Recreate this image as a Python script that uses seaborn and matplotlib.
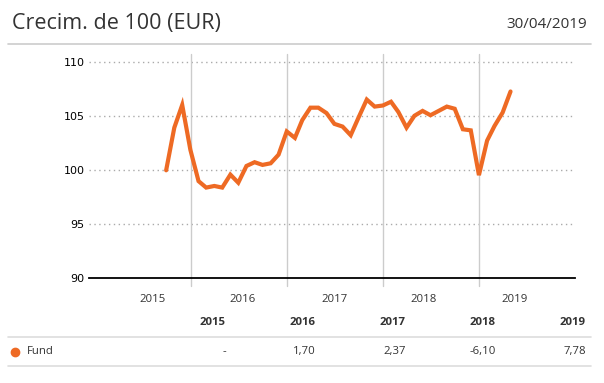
import matplotlib
matplotlib.use("Agg")
import matplotlib.pyplot as plt
from matplotlib.lines import Line2D
import seaborn as sns
import pandas as pd

# ---- data ----
months = pd.date_range("2015-09-30", "2019-04-30", freq="ME")
fund_values = [100.0, 103.95, 106.05, 101.9,
               99.0, 98.4, 98.55, 98.4, 99.6, 98.85, 100.4, 100.75, 100.5, 100.65, 101.45, 103.6,
               103.0, 104.65, 105.8, 105.8, 105.3, 104.3, 104.05, 103.25, 104.9, 106.55, 105.9, 106.0,
               106.35, 105.4, 103.95, 105.05, 105.5, 105.1, 105.5, 105.9, 105.7, 103.8, 103.7, 99.55,
               102.75, 104.1, 105.35, 107.3]
year_labels = ["2015", "2016", "2017", "2018", "2019"]
year_label_dates = ["2015-08-08", "2016-07-18", "2017-06-29", "2018-06-05", "2019-05-16"]
year_bounds = ["2016-01-01", "2017-01-01", "2018-01-01", "2019-01-01"]
yticks = [90, 95, 100, 105, 110]
table_years = ["2015", "2016", "2017", "2018", "2019"]
table_values = ["-", "1,70", "2,37", "-6,10", "7,78"]
series_name = "Fund"
title = "Crecim. de 100 (EUR)"
date_text = "30/04/2019"

ORANGE = "#EE6A24"
df = pd.DataFrame({"date": months, "value": fund_values})

sns.set_style("white")
plt.rcParams["font.family"] = ["Open Sans", "DejaVu Sans"]

W, H = 604, 383
fig = plt.figure(figsize=(W / 100, H / 100), dpi=100)
ax = fig.add_axes([89 / W, 1 - 278.3 / H, (575.3 - 89) / W, (278.3 - 54) / H])

sns.lineplot(data=df, x="date", y="value", ax=ax, color=ORANGE, linewidth=3.0,
             solid_joinstyle="miter", zorder=5)

ax.set_xlim(pd.Timestamp("2014-12-11"), pd.Timestamp("2020-01-01"))
ax.set_ylim(90, 110.77)

for y in yticks[1:]:
    ax.axhline(y, color="#aaaaaa", linestyle=(0, (1, 2.5)), linewidth=1.0, zorder=1)
for d in year_bounds:
    ax.axvline(pd.Timestamp(d), ymin=-0.036, ymax=1, color="#cccccc", linewidth=1.0,
               clip_on=False, zorder=1)

for s in ["top", "right", "left"]:
    ax.spines[s].set_visible(False)
ax.spines["bottom"].set_color("black")
ax.spines["bottom"].set_linewidth(1.3)
ax.spines["bottom"].set_zorder(6)

ax.set_yticks(yticks)
ax.set_yticklabels([str(v) for v in yticks], fontfamily="DejaVu Sans", fontsize=8, color="black")
ax.tick_params(axis="y", length=0, pad=3)
ax.set_xticks([pd.Timestamp(d) for d in year_label_dates])
ax.set_xticklabels(year_labels, fontsize=8.2, color="#333333")
ax.tick_params(axis="x", length=0, pad=11)
ax.set_xlabel("")
ax.set_ylabel("")

# title area
fig.text(12 / W, 1 - 23.5 / H, title, fontsize=15.5, color="#333333", va="center", ha="left")
fig.text(587 / W, 1 - 24.5 / H, date_text, fontsize=11, color="#333333", va="center", ha="right")
fig.add_artist(Line2D([8 / W, 591 / W], [1 - 43.5 / H, 1 - 43.5 / H], color="#cccccc", linewidth=1.2))

# table
col_right = [226, 316, 406, 496, 586]
for x, yr, val in zip(col_right, table_years, table_values):
    fig.text(x / W, 1 - 322.5 / H, yr, fontsize=8.2, fontweight="bold", color="#333333",
             ha="right", va="center")
    fig.text(x / W, 1 - 351.7 / H, val, fontsize=8.2, color="#333333", ha="right", va="center")
for yl in [337.3, 366]:
    fig.add_artist(Line2D([8 / W, 591 / W], [1 - yl / H, 1 - yl / H], color="#dddddd", linewidth=1.2))
fig.add_artist(Line2D([15 / W], [1 - 351.7 / H], marker="o", markersize=6, color=ORANGE,
                      linestyle="none"))
fig.text(27 / W, 1 - 351.7 / H, series_name, fontsize=8.2, color="#333333", ha="left", va="center")

fig.savefig("out.png", dpi=100)
